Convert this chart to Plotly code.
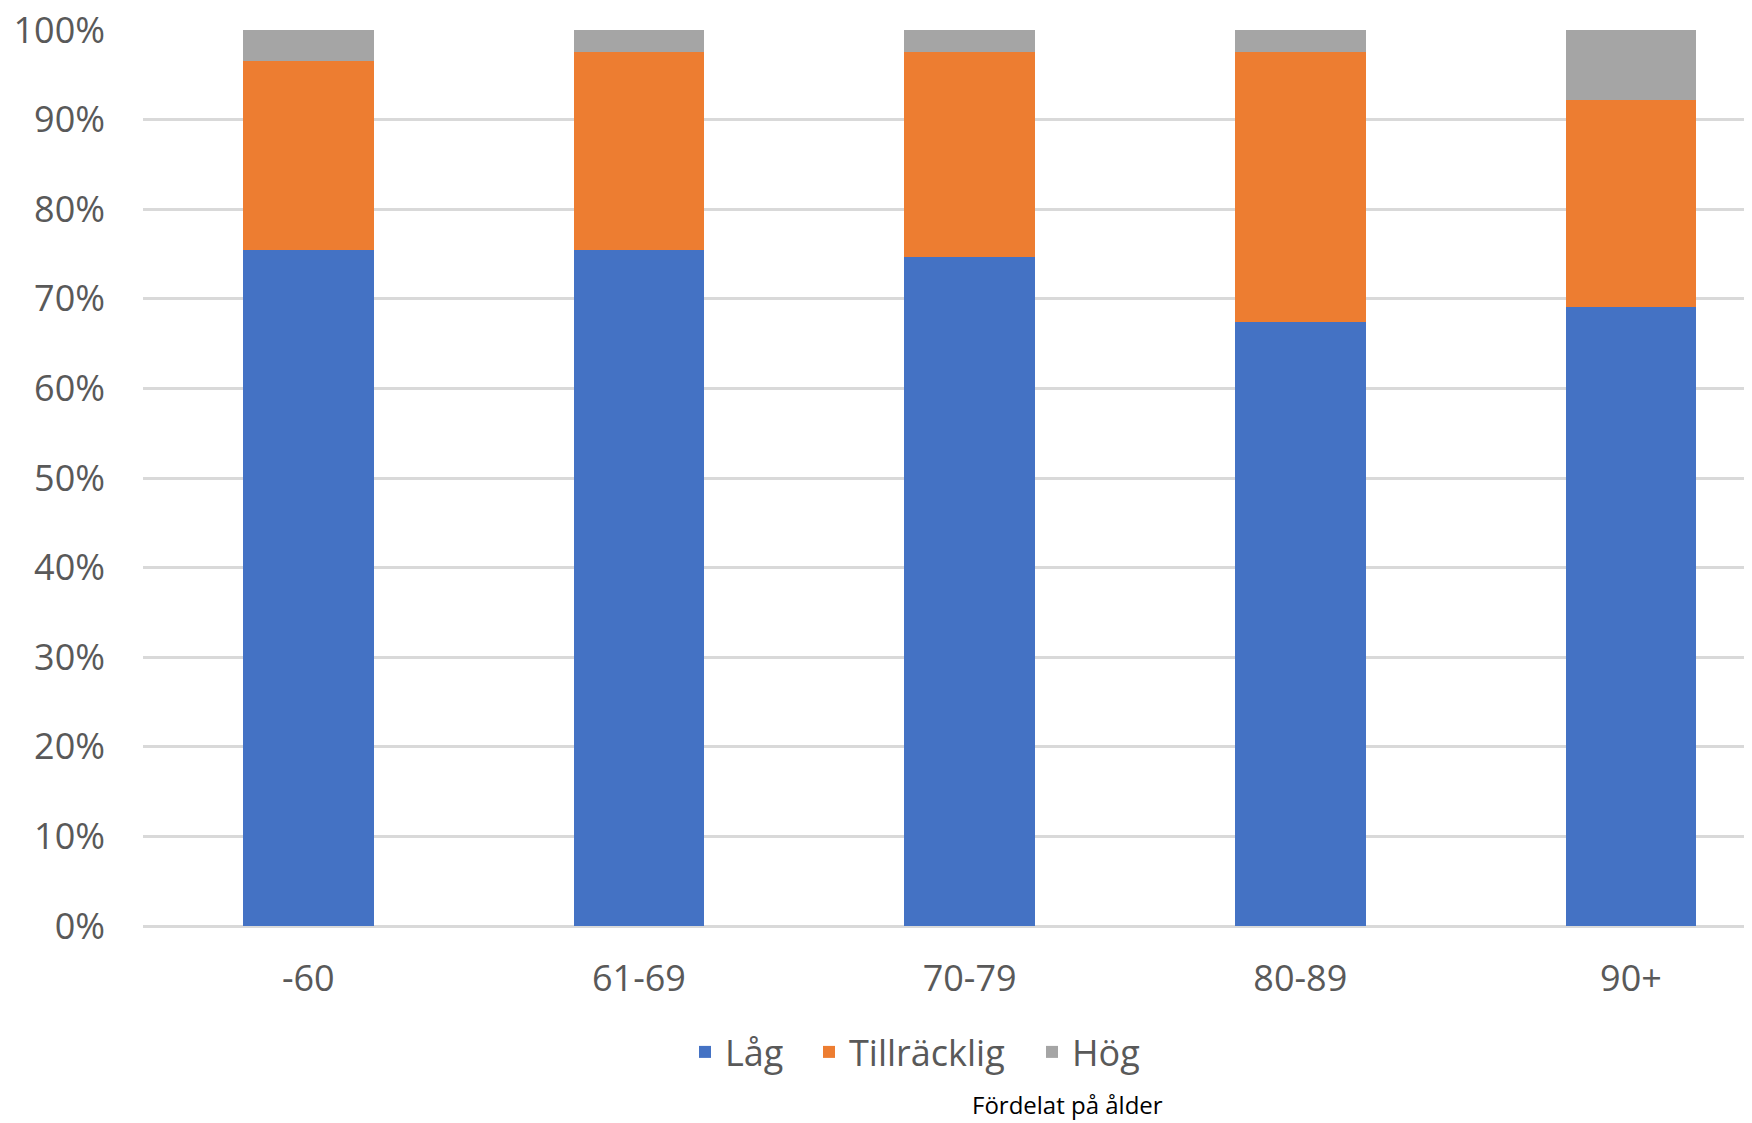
import plotly.graph_objects as go

categories = ["-60", "61-69", "70-79", "80-89", "90+"]
series_names = ["Låg", "Tillräcklig", "Hög"]
lag = [75.5, 75.5, 74.7, 67.4, 69.1]
tillracklig = [21.0, 22.0, 22.8, 30.1, 23.1]
hog = [3.5, 2.5, 2.5, 2.5, 7.8]
colors = ["#4472C4", "#ED7D31", "#A5A5A5"]
y_ticks = list(range(0, 101, 10))
y_ticktext = [f"{v}%" for v in y_ticks]
caption = "Fördelat på ålder"

# page body has an 8px margin, compensate
W, H = 1744, 1115
ML, MR, MT, MB = 135, 0, 22, 197
PLOT_W = W - ML - MR
PLOT_H = H - MT - MB

def px_x(absx):
    return (absx - 8 - ML) / PLOT_W

def px_y(absy):
    return (MT + PLOT_H - (absy - 8)) / PLOT_H

legend_names = ["legend", "legend2", "legend3"]
legend_sym_x = [705, 829, 1052]  # absolute page px of symbol centres

fig = go.Figure()
for name, vals, col, lg in zip(series_names, [lag, tillracklig, hog], colors, legend_names):
    fig.add_trace(go.Bar(x=categories, y=vals, name=name, legend=lg, showlegend=True,
                         marker=dict(color=col, line=dict(width=0))))

legend_common = dict(
    orientation="h", xanchor="left", yanchor="middle", visible=True,
    y=px_y(1052), font=dict(size=36, color="#595959"),
    bgcolor="rgba(0,0,0,0)", borderwidth=0,
)
layout_legends = {}
for lg, sx in zip(legend_names, legend_sym_x):
    layout_legends[lg] = dict(legend_common, x=px_x(sx - 20))

fig.update_layout(
    showlegend=True,
    barmode="stack",
    bargap=0.605,
    width=W, height=H,
    margin=dict(l=ML, r=MR, t=MT, b=MB, autoexpand=False),
    paper_bgcolor="white",
    plot_bgcolor="white",
    font=dict(family="Open Sans, Lato, sans-serif", size=36, color="#595959"),
    annotations=[dict(
        text=caption, xref="paper", yref="paper",
        x=px_x(1067), y=px_y(1104), xanchor="center", yanchor="middle",
        showarrow=False, font=dict(size=24, color="#000000", family="Open Sans, sans-serif"),
    )],
    **layout_legends,
)

fig.update_xaxes(
    type="category",
    range=[-0.5, 4.366],
    showgrid=False,
    showline=False,
    zeroline=False,
    ticks="",
    ticklabelstandoff=28,
    automargin=False,
    tickfont=dict(size=36, color="#595959"),
)
fig.update_yaxes(
    range=[0, 100],
    tickmode="array",
    tickvals=y_ticks,
    ticktext=y_ticktext,
    showgrid=True,
    gridcolor="#D9D9D9",
    gridwidth=2.5,
    zeroline=True,
    zerolinecolor="#D9D9D9",
    zerolinewidth=2.5,
    showline=False,
    ticks="",
    ticklabelstandoff=37,
    ticklabeloverflow="allow",
    automargin=False,
    tickfont=dict(size=36, color="#595959"),
)

fig.write_html("out.html")
